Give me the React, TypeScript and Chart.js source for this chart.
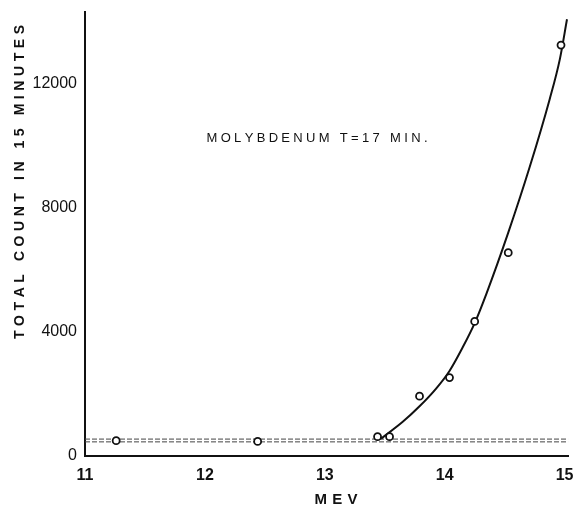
import React, { useEffect, useRef } from "react";
import { Chart, registerables } from "chart.js";

Chart.register(...registerables);

// Measured points (MeV, total count in 15 minutes)
const energyMeV = [11.26, 12.44, 13.44, 13.54, 13.79, 14.04, 14.25, 14.53, 14.97];
const totalCount = [494, 468, 623, 623, 1926, 2526, 4333, 6549, 13236];

// Hand-drawn fit curve
const curveMeV = [13.47, 13.65, 13.79, 13.93, 14.04, 14.15, 14.25, 14.35, 14.53, 14.71, 14.875, 14.96, 15.02];
const curveCount = [560, 1100, 1600, 2180, 2740, 3500, 4281, 5249, 7194, 9323, 11485, 12775, 14065];

// Background level (dashed)
const backgroundMeV = [11, 15.03];
const backgroundCount = [500, 500];

// Tick labels
const xTicks = [11, 12, 13, 14, 15];
const yTicks = [0, 4000, 8000, 12000];

const yTitle = "TOTAL COUNT IN 15 MINUTES";
const xTitle = "MEV";
const note = "MOLYBDENUM T=17 MIN.";

function drawSpaced(ctx: CanvasRenderingContext2D, text: string, cx: number, cy: number, target: number) {
  const chars = Array.from(text);
  const widths = chars.map((c) => ctx.measureText(c).width);
  const total = widths.reduce((a, b) => a + b, 0);
  const gap = chars.length > 1 ? (target - total) / (chars.length - 1) : 0;
  let x = cx - target / 2;
  ctx.textAlign = "left";
  ctx.textBaseline = "middle";
  chars.forEach((c, i) => {
    ctx.fillText(c, x, cy);
    x += widths[i] + gap;
  });
}

const textPlugin = {
  id: "textPlugin",
  afterDraw(chart: any) {
    const ctx = chart.ctx as CanvasRenderingContext2D;
    ctx.save();
    ctx.fillStyle = "#111";
    ctx.font = "bold 14px 'Liberation Sans', sans-serif";
    ctx.save();
    ctx.translate(20, 182);
    ctx.rotate(-Math.PI / 2);
    drawSpaced(ctx, yTitle, 0, 0, 314);
    ctx.restore();
    ctx.font = "bold 15px 'Liberation Sans', sans-serif";
    drawSpaced(ctx, xTitle, 336, 500, 43);
    ctx.font = "13px 'Liberation Sans', sans-serif";
    drawSpaced(ctx, note, 317, 138, 221);
    ctx.restore();
  },
};

const bgPlugin = {
  id: "bgPlugin",
  beforeDraw(chart: any) {
    const ctx = chart.ctx;
    ctx.save();
    ctx.fillStyle = "#fff";
    ctx.fillRect(0, 0, chart.width, chart.height);
    ctx.restore();
  },
};

export default function App() {
  const ref = useRef<HTMLCanvasElement>(null);
  useEffect(() => {
    if (!ref.current) return;
    const chart = new Chart(ref.current, {
      type: "scatter",
      data: {
        datasets: [
          {
            label: "data",
            data: energyMeV.map((x, i) => ({ x, y: totalCount[i] })),
            showLine: false,
            pointRadius: 3.5,
            pointBackgroundColor: "#fff",
            pointBorderColor: "#111",
            pointBorderWidth: 1.8,
          },
          {
            label: "curve",
            data: curveMeV.map((x, i) => ({ x, y: curveCount[i] })),
            showLine: true,
            pointRadius: 0,
            borderColor: "#111",
            borderWidth: 2,
            cubicInterpolationMode: "monotone",
          },
          {
            label: "bg1",
            data: backgroundMeV.map((x, i) => ({ x, y: backgroundCount[i] - 45 })),
            showLine: true,
            pointRadius: 0,
            borderColor: "#444",
            borderWidth: 1,
            borderDash: [5, 2],
          },
          {
            label: "bg2",
            data: backgroundMeV.map((x, i) => ({ x, y: backgroundCount[i] + 45 })),
            showLine: true,
            pointRadius: 0,
            borderColor: "#444",
            borderWidth: 1,
            borderDash: [5, 2],
          },
        ],
      },
      options: {
        animation: false,
        responsive: true,
        maintainAspectRatio: false,
        layout: { padding: { top: 12, right: 1, left: 0, bottom: 0 } },
        plugins: { legend: { display: false }, tooltip: { enabled: false }, title: { display: false } },
        scales: {
          x: {
            type: "linear",
            min: 11,
            max: 15.03,
            grid: { display: false, drawTicks: false },
            border: { display: true, color: "#111", width: 2 },
            ticks: {
              color: "#111",
              padding: 10,
              font: { family: "'Liberation Sans', sans-serif", size: 16, weight: "bold" },
              maxRotation: 0,
            },
            afterBuildTicks: (s: any) => {
              s.ticks = xTicks.map((v) => ({ value: v }));
            },
            afterFit: (s: any) => {
              s.height = 52;
              s.paddingLeft = 0;
              s.paddingRight = 0;
            },
          },
          y: {
            type: "linear",
            min: 0,
            max: 14300,
            grid: { display: false, drawTicks: false },
            border: { display: true, color: "#111", width: 2 },
            ticks: {
              color: "#111",
              padding: 8,
              font: { family: "'Liberation Sans', sans-serif", size: 16 },
              callback: (v: any) => String(v),
            },
            afterBuildTicks: (s: any) => {
              s.ticks = yTicks.map((v) => ({ value: v }));
            },
            afterFit: (s: any) => {
              s.width = 85;
              s.paddingTop = 0;
              s.paddingBottom = 0;
            },
          },
        },
      },
      plugins: [bgPlugin, textPlugin],
    } as any);
    return () => chart.destroy();
  }, []);
  return (
    <div style={{ position: "fixed", left: 0, top: 0, width: 574, height: 508, background: "#fff" }}>
      <canvas ref={ref} />
    </div>
  );
}
